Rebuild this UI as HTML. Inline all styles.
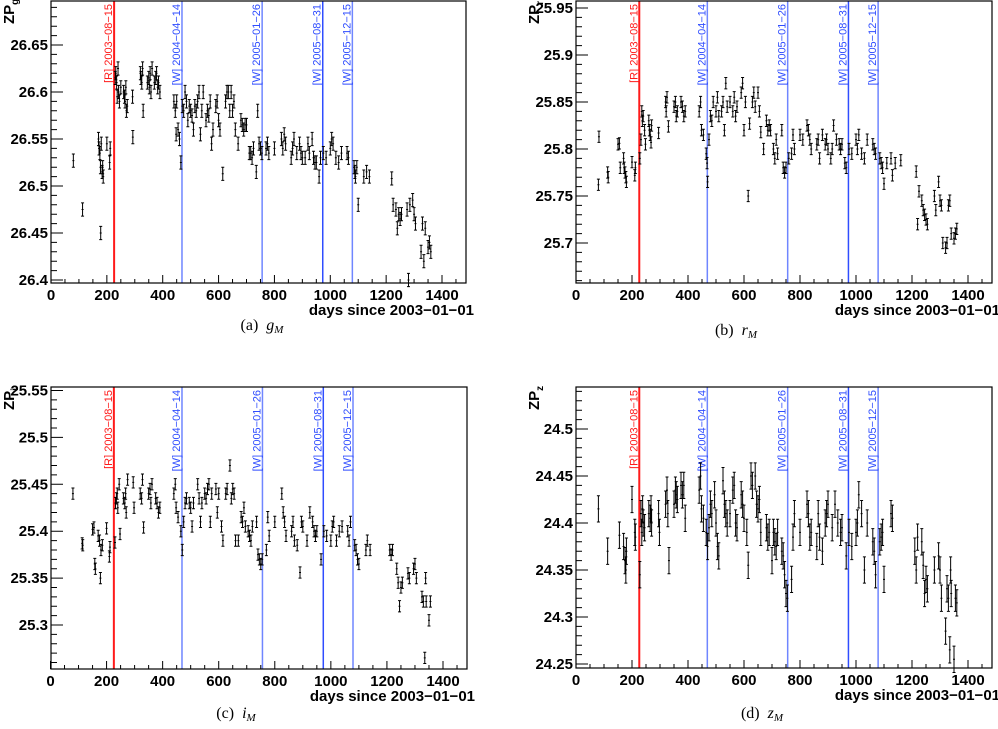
<!DOCTYPE html>
<html><head><meta charset="utf-8"><style>
html,body{margin:0;padding:0;background:#fff;}
svg{display:block;font-family:"Liberation Sans",sans-serif;}
.tl{font-weight:bold;font-size:15px;fill:#000;}
.cap{font-family:"Liberation Serif",serif;font-size:16px;fill:#000;}
</style></head><body>
<svg id="fig" width="998" height="729" viewBox="0 0 998 729"></svg>
<script>
// ---- data ----
const daysA=[80,113,170,172,175,177,178,180,183,185,187,200,210,212,230,232,235,237,240,242,245,250,260,263,265,268,270,273,292,293,320,322,325,328,330,345,350,352,355,358,362,370,375,378,382,385,390,440,445,448,450,455,460,465,470,475,480,485,490,495,500,505,510,515,520,525,530,535,540,545,555,560,565,570,575,580,590,595,600,605,615,625,630,635,640,645,650,655,660,670,680,685,690,695,700,710,715,720,725,735,740,745,750,755,770,775,780,800,825,830,835,840,860,865,870,880,890,895,900,910,920,925,935,940,945,950,960,965,975,985,1000,1005,1010,1020,1030,1040,1060,1065,1085,1088,1090,1095,1100,1120,1130,1140,1220,1225,1235,1240,1245,1250,1255,1275,1280,1285,1295,1300,1305,1325,1330,1335,1340,1350,1355,1360];
const valsA=[26.527,26.475,26.55,26.54,26.535,26.52,26.45,26.545,26.515,26.52,26.51,26.545,26.525,26.54,26.615,26.62,26.61,26.595,26.625,26.6,26.59,26.605,26.6,26.595,26.59,26.605,26.58,26.585,26.595,26.552,26.62,26.615,26.61,26.625,26.58,26.61,26.615,26.605,26.62,26.6,26.625,26.61,26.615,26.62,26.605,26.61,26.6,26.59,26.58,26.555,26.59,26.56,26.55,26.525,26.585,26.58,26.6,26.59,26.57,26.585,26.58,26.575,26.56,26.585,26.58,26.59,26.6,26.555,26.58,26.6,26.57,26.58,26.575,26.59,26.545,26.56,26.585,26.59,26.57,26.56,26.513,26.59,26.6,26.6,26.58,26.6,26.58,26.59,26.56,26.545,26.57,26.565,26.56,26.565,26.565,26.535,26.535,26.53,26.54,26.515,26.58,26.545,26.54,26.535,26.54,26.545,26.535,26.54,26.55,26.54,26.555,26.545,26.53,26.54,26.55,26.535,26.545,26.535,26.53,26.53,26.545,26.535,26.55,26.53,26.525,26.525,26.51,26.53,26.535,26.53,26.54,26.55,26.545,26.53,26.525,26.535,26.535,26.53,26.52,26.515,26.51,26.52,26.48,26.51,26.515,26.51,26.508,26.48,26.475,26.455,26.47,26.465,26.47,26.475,26.40,26.48,26.485,26.47,26.46,26.43,26.46,26.42,26.455,26.435,26.44,26.43];
const errA=0.007;
const daysB=[80,82,113,115,150,155,158,170,172,175,178,180,200,210,212,228,232,235,237,240,245,248,260,262,265,268,270,295,320,322,325,330,350,355,358,362,375,380,385,390,440,445,448,455,465,468,470,475,480,485,490,500,505,510,520,525,530,535,540,550,560,565,570,575,590,595,600,605,615,620,630,635,640,650,655,660,670,680,685,690,695,705,710,715,720,735,740,745,750,760,770,775,780,800,810,825,830,835,840,860,865,870,880,890,895,900,910,915,920,930,940,945,950,960,965,975,985,1000,1005,1010,1020,1030,1040,1060,1065,1070,1085,1090,1095,1100,1110,1125,1130,1140,1160,1215,1220,1225,1235,1240,1245,1250,1255,1280,1285,1295,1300,1305,1310,1320,1325,1330,1335,1340,1350,1355,1360];
const valsB=[25.762,25.813,25.775,25.77,25.805,25.806,25.78,25.79,25.78,25.775,25.77,25.765,25.786,25.772,25.78,25.79,25.81,25.84,25.83,25.835,25.82,25.805,25.83,25.82,25.815,25.807,25.825,25.817,25.85,25.84,25.855,25.824,25.845,25.85,25.835,25.84,25.85,25.845,25.835,25.84,25.84,25.85,25.82,25.815,25.795,25.785,25.765,25.81,25.835,25.83,25.85,25.84,25.855,25.835,25.84,25.85,25.82,25.87,25.845,25.85,25.84,25.855,25.835,25.845,25.86,25.87,25.82,25.85,25.75,25.827,25.85,25.86,25.845,25.86,25.84,25.818,25.8,25.83,25.82,25.825,25.82,25.8,25.79,25.81,25.795,25.82,25.78,25.775,25.78,25.79,25.795,25.815,25.8,25.815,25.81,25.825,25.82,25.81,25.8,25.805,25.81,25.79,25.815,25.805,25.81,25.8,25.79,25.8,25.825,25.81,25.805,25.8,25.805,25.785,25.78,25.8,25.795,25.81,25.8,25.815,25.795,25.79,25.81,25.805,25.8,25.795,25.79,25.785,25.78,25.763,25.785,25.79,25.772,25.785,25.788,25.776,25.72,25.755,25.745,25.735,25.73,25.725,25.72,25.75,25.735,25.765,25.745,25.74,25.7,25.695,25.7,25.74,25.745,25.71,25.705,25.71,25.715];
const errB=0.006;
const daysC=[80,113,115,150,155,158,160,170,175,178,180,185,200,210,212,230,232,235,238,240,245,248,260,265,268,270,275,295,298,320,325,328,332,350,355,358,362,375,380,385,390,440,445,448,455,465,470,475,480,485,495,500,505,510,525,530,535,540,550,555,560,565,570,575,590,595,600,610,615,625,630,640,645,650,655,660,670,680,685,690,695,705,710,715,720,735,740,745,750,755,770,775,780,800,825,830,835,840,860,865,870,880,890,895,900,915,925,935,940,945,950,965,975,985,1000,1005,1010,1020,1030,1040,1060,1065,1070,1085,1090,1095,1100,1125,1130,1140,1210,1215,1220,1235,1240,1245,1250,1255,1275,1280,1295,1300,1305,1325,1330,1335,1338,1340,1350,1355];
const valsC=[25.44,25.387,25.385,25.402,25.404,25.365,25.36,25.395,25.39,25.35,25.38,25.385,25.403,25.373,25.383,25.388,25.43,25.435,25.44,25.425,25.45,25.397,25.435,25.43,25.44,25.42,25.455,25.452,25.425,25.44,25.435,25.455,25.404,25.44,25.445,25.43,25.45,25.435,25.43,25.42,25.425,25.44,25.45,25.425,25.415,25.4,25.38,25.41,25.43,25.435,25.43,25.425,25.405,25.43,25.45,25.435,25.41,25.43,25.44,25.435,25.445,25.45,25.41,25.44,25.445,25.42,25.44,25.405,25.39,25.44,25.445,25.47,25.435,25.445,25.44,25.39,25.39,25.415,25.41,25.425,25.405,25.4,25.395,25.39,25.405,25.41,25.375,25.37,25.365,25.37,25.38,25.415,25.395,25.41,25.44,25.42,25.41,25.395,25.4,25.41,25.39,25.385,25.356,25.41,25.405,25.39,25.42,25.41,25.4,25.395,25.4,25.37,25.4,25.395,25.39,25.405,25.41,25.39,25.4,25.405,25.4,25.39,25.41,25.385,25.38,25.37,25.365,25.38,25.39,25.38,25.38,25.375,25.38,25.36,25.345,25.32,25.34,25.345,25.355,25.35,25.36,25.365,25.35,25.33,25.325,25.265,25.35,25.325,25.305,25.325];
const errC=0.006;
const daysD=[80,113,155,170,175,178,180,200,210,212,228,232,235,238,240,245,260,265,268,270,295,298,320,325,328,332,350,355,358,362,375,380,385,390,440,445,448,455,465,470,475,480,485,495,500,505,510,525,530,535,540,550,560,565,570,575,590,595,600,610,615,625,630,640,645,650,655,660,680,685,690,700,705,710,715,720,735,740,745,750,755,770,775,780,800,825,830,835,840,860,865,870,880,890,895,900,915,925,935,945,950,965,975,985,1000,1005,1010,1020,1030,1040,1060,1065,1070,1085,1090,1095,1100,1125,1130,1210,1215,1220,1235,1240,1245,1250,1255,1280,1295,1300,1305,1320,1325,1330,1335,1338,1340,1350,1355,1360];
const valsD=[24.415,24.37,24.387,24.375,24.36,24.35,24.37,24.425,24.39,24.385,24.345,24.41,24.39,24.415,24.4,24.395,24.41,24.405,24.415,24.4,24.41,24.39,24.42,24.435,24.41,24.36,24.42,24.435,24.43,24.425,24.44,24.43,24.44,24.405,24.435,24.45,24.415,24.405,24.39,24.375,24.395,24.42,24.41,24.43,24.4,24.375,24.365,24.445,24.42,24.41,24.4,24.41,24.435,24.44,24.4,24.395,24.43,24.42,24.405,24.39,24.355,24.45,24.44,24.45,24.42,24.415,24.425,24.39,24.395,24.385,24.39,24.36,24.39,24.38,24.375,24.39,24.37,24.365,24.345,24.325,24.32,24.34,24.385,24.41,24.39,24.42,24.41,24.385,24.39,24.375,24.41,24.385,24.37,24.4,24.41,24.42,24.395,24.42,24.4,24.39,24.395,24.365,24.39,24.375,24.39,24.4,24.43,24.41,24.35,24.4,24.38,24.37,24.345,24.38,24.385,24.39,24.34,24.41,24.405,24.37,24.35,24.385,24.38,24.355,24.325,24.34,24.33,24.35,24.365,24.35,24.32,24.285,24.33,24.32,24.265,24.35,24.325,24.255,24.32,24.315];
const errD=0.014;
const eventDays=[226,469,756,973,1079];
const eventLabels=["[R] 2003\u221208\u221215","[W] 2004\u221204\u221214","[W] 2005\u221201\u221226","[W] 2005\u221208\u221231","[W] 2005\u221212\u221215"];
const xTicks=[0,200,400,600,800,1000,1200,1400];
const yTicksA=["26.4","26.45","26.5","26.55","26.6","26.65"];
const yTicksB=["25.7","25.75","25.8","25.85","25.9","25.95"];
const yTicksC=["25.3","25.35","25.4","25.45","25.5","25.55"];
const yTicksD=["24.25","24.3","24.35","24.4","24.45","24.5"];

const NS="http://www.w3.org/2000/svg";
const svg=document.getElementById('fig');
function mk(tag,attrs,parent){const e=document.createElementNS(NS,tag);for(const k in attrs)e.setAttribute(k,attrs[k]);(parent||svg).appendChild(e);return e;}

function panel(P){
  const g=mk('g',{});
  
  
  const xs=d=>P.x0+d*(P.x1400-P.x0)/1400;
  const ys=v=>P.yA+(v-P.vA)*(P.yB-P.yA)/(P.vB-P.vA);
  const vTop=P.vA+(P.top-P.yA)*(P.vB-P.vA)/(P.yB-P.yA);
  const vBot=P.vA+(P.bot-P.yA)*(P.vB-P.vA)/(P.yB-P.yA);
  // event lines
  eventDays.forEach((d,i)=>{
    const x=xs(d);
    const col=i==0?'#ff1a1a':(i==3?'#2f4dff':'#6f86ff');
    const ln=mk('line',{x1:x,x2:x,y1:P.top,y2:P.bot,stroke:col,'stroke-width':i==0?2:1.5},g);
    
    
    const t=mk('text',{transform:`translate(${x-2},${P.top+3}) rotate(-90)`,'text-anchor':'end','font-size':'11',fill:i==0?'#ff1a1a':'#2f4dff'},g);
    t.textContent=eventLabels[i];
    
    
  });
  // data points
  const pg=mk('g',{stroke:'#000','stroke-width':1},g);
  
  
  P.days.forEach((d,i)=>{
    const x=xs(d),y=ys(P.vals[i]);
    const y1=ys(P.vals[i]+P.err),y2=ys(P.vals[i]-P.err);
    const p=mk('path',{d:`M${x},${y1}V${y2}M${x-1.5},${y1}H${x+1.5}M${x-1.5},${y2}H${x+1.5}M${x-1},${y}H${x+1}`,fill:'none'},pg);
    
    
  });
  // frame
  const fr=mk('rect',{x:P.left,y:P.top,width:P.right-P.left,height:P.bot-P.top,fill:'none',stroke:'#000','stroke-width':1.2},g);
  
  
  // x ticks
  let path='';
  for(let d=0;d<=1450;d+=50){const x=xs(d);if(x>P.right)break;const L=d%200==0?8:4;path+=`M${x},${P.bot}V${P.bot-L}`;}
  // y ticks
  const vs=Math.ceil(vBot*100-1e-6);const ve=Math.floor(vTop*100+1e-6);
  for(let k=vs;k<=ve;k++){const y=ys(k/100);const L=k%5==0?12:6;path+=`M${P.left},${y}H${P.left+L}`;}
  mk('path',{d:path,stroke:'#000','stroke-width':1,fill:'none'},g);
  xTicks.forEach(d=>{
    const t=mk('text',{x:xs(d),y:P.bot+17,'text-anchor':'middle',class:'tl'},g);
    t.textContent=d;
    
    
  });
  P.yt.forEach(s=>{
    const t=mk('text',{x:P.left-3,y:ys(parseFloat(s))+5,'text-anchor':'end',class:'tl'},g);
    t.textContent=s;
    
    
  });
  const xt=mk('text',{x:P.right+8,y:P.bot+32,'text-anchor':'end',class:'tl'},g);
  xt.textContent='days since 2003\u221201\u221201';
  
  
  const yt=mk('text',{transform:`translate(${P.left-37},${P.top+23}) rotate(-90)`,class:'tl','font-size':'14'},g);
  yt.innerHTML='ZP<tspan font-size="10" dy="4">'+P.sub+'</tspan>';
  
  
  const cp=mk('text',{x:P.capx,y:P.capy,'text-anchor':'middle',class:'cap'},g);
  cp.innerHTML='('+P.letter+')&#160;&#160;<tspan font-style="italic">'+P.sub+'</tspan><tspan font-style="italic" font-size="11" dy="3">M</tspan>';
  
  
}
panel({name:'panel-g',left:51,right:466,top:1,bot:283,x0:51,x1400:442,vA:26.65,yA:45,vB:26.4,yB:280,days:daysA,vals:valsA,err:errA,yt:yTicksA,sub:'g',letter:'a',capx:262,capy:330});
panel({name:'panel-r',left:576,right:992,top:1,bot:283,x0:576,x1400:968,vA:25.95,yA:8,vB:25.7,yB:243,days:daysB,vals:valsB,err:errB,yt:yTicksB,sub:'r',letter:'b',capx:736,capy:335});
panel({name:'panel-i',left:51,right:467,top:387,bot:669,x0:50.5,x1400:443,vA:25.55,yA:390.5,vB:25.3,yB:625,days:daysC,vals:valsC,err:errC,yt:yTicksC,sub:'i',letter:'c',capx:236,capy:718});
panel({name:'panel-z',left:576,right:992,top:387,bot:668,x0:576,x1400:968,vA:24.5,yA:429,vB:24.25,yB:664,days:daysD,vals:valsD,err:errD,yt:yTicksD,sub:'z',letter:'d',capx:762,capy:718});
</script>
</body></html>
